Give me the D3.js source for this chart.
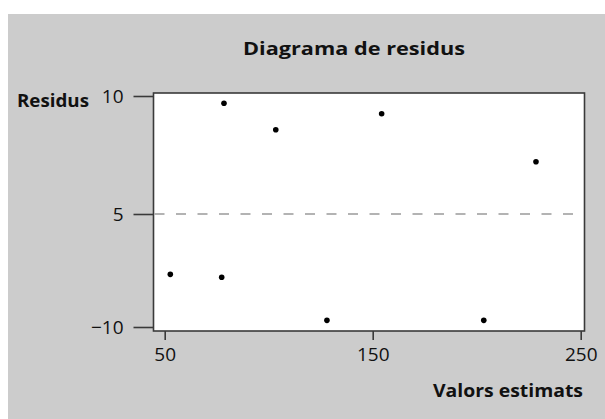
<!DOCTYPE html>
<html>
<head>
<meta charset="utf-8">
<script src="https://cdn.jsdelivr.net/npm/d3@7"></script>
<style>
  html, body { margin: 0; padding: 0; background: #ffffff; }
  svg { display: block; }
  text { font-family: "Open Sans", "Lato", sans-serif; fill: #111; }
</style>
</head>
<body>
<svg id="chart" width="605" height="419"></svg>
<script>
// ---- Data ----
const estimatedValues = [52.7, 77.4, 78.5, 103.4, 128.0, 154.3, 203.4, 228.5];
const residuals       = [-5.34, -5.60, 9.38, 7.14, -9.41, 8.50, -9.41, 4.43];
const xTicks = [50, 150, 250];
const yTicks = [-10, 0, 10];
const yTickLabels = ["\u221210", "5", "10"];
const titleText = "Diagrama de residus";
const xTitle = "Valors estimats";
const yTitle = "Residus";

// ---- Layout ----
const svg = d3.select("#chart");
const frame = { left: 153.5, right: 584.5, top: 93, bottom: 331 };

const x = d3.scaleLinear().domain([50, 250]).range([164.7, 580.7]);
const y = d3.scaleLinear().domain([-10, 0, 10]).range([327, 214, 96]);

// background
svg.append("rect").attr("x", 8).attr("y", 14).attr("width", 605 - 8).attr("height", 419 - 14)
  .attr("fill", "#cccccc");

// plot area
svg.append("rect")
  .attr("x", frame.left).attr("y", frame.top)
  .attr("width", frame.right - frame.left).attr("height", frame.bottom - frame.top)
  .attr("fill", "#ffffff").attr("stroke", "#3a3a3a").attr("stroke-width", 1.6);

// zero reference line
svg.append("line")
  .attr("x1", frame.left + 1).attr("x2", frame.right - 1)
  .attr("y1", y(0)).attr("y2", y(0))
  .attr("stroke", "#9a9a9a").attr("stroke-width", 1.3)
  .attr("stroke-dasharray", "10,11.5");

// y axis
const yAxis = d3.axisLeft(y).tickValues(yTicks)
  .tickSize(20).tickPadding(10)
  .tickFormat((d, i) => yTickLabels[i]);
const gy = svg.append("g").attr("transform", `translate(${frame.left},0)`).call(yAxis);
gy.select(".domain").remove();
gy.selectAll(".tick line").attr("stroke", "#3a3a3a").attr("stroke-width", 1.6);
gy.selectAll(".tick text").attr("font-size", 19).attr("font-family", "Open Sans, Lato, sans-serif")
  .attr("fill", "#111").attr("dy", "0.34em");

// x axis
const xAxis = d3.axisBottom(x).tickValues(xTicks).tickSize(9).tickPadding(8).tickFormat(d3.format("d"));
const gx = svg.append("g").attr("transform", `translate(0,${frame.bottom})`).call(xAxis);
gx.select(".domain").remove();
gx.selectAll(".tick line").attr("stroke", "#3a3a3a").attr("stroke-width", 1.6);
gx.selectAll(".tick text").attr("font-size", 19).attr("font-family", "Open Sans, Lato, sans-serif")
  .attr("fill", "#111");

// points
svg.append("g").selectAll("circle")
  .data(estimatedValues.map((v, i) => [v, residuals[i]]))
  .join("circle")
  .attr("cx", d => x(d[0]))
  .attr("cy", d => y(d[1]))
  .attr("r", 2.8)
  .attr("fill", "#000");

// titles
svg.append("text").attr("x", 243).attr("y", 55)
  .attr("font-size", 18.5).attr("font-weight", "bold")
  .attr("textLength", 222).attr("lengthAdjust", "spacingAndGlyphs")
  .text(titleText);

svg.append("text").attr("x", 17).attr("y", 107)
  .attr("font-size", 18).attr("font-weight", "bold")
  .attr("textLength", 72).attr("lengthAdjust", "spacingAndGlyphs")
  .text(yTitle);

svg.append("text").attr("x", 433).attr("y", 397)
  .attr("font-size", 18.5).attr("font-weight", "bold")
  .attr("textLength", 150).attr("lengthAdjust", "spacingAndGlyphs")
  .text(xTitle);
</script>
</body>
</html>
